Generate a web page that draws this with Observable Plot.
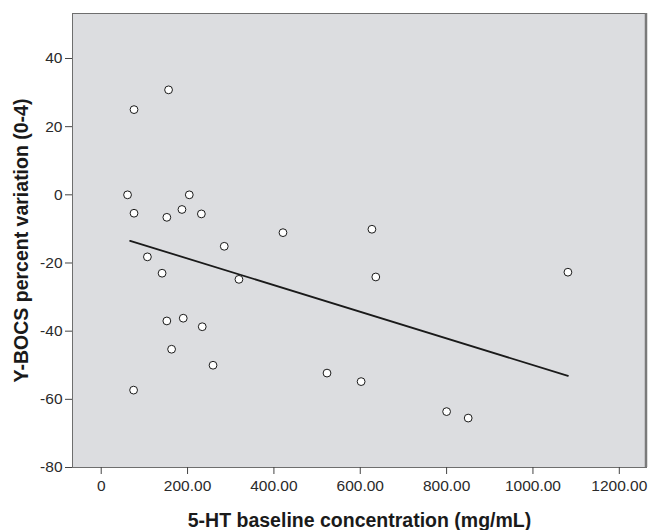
<!DOCTYPE html>
<html>
<head>
<meta charset="utf-8">
<script src="https://cdn.jsdelivr.net/npm/d3@7"></script>
<script src="https://cdn.jsdelivr.net/npm/@observablehq/plot@0.6"></script>
<style>
  html, body { margin: 0; padding: 0; background: #fff; }
  #chart svg { display: block; font-family: "Liberation Sans", Arial, Helvetica, sans-serif; }
</style>
</head>
<body>
<div id="chart"></div>
<script>
// 5-HT baseline concentration (mg/mL)
const serotonin = [156, 76, 61, 76, 152, 187, 204, 232, 421, 627, 285, 107, 141, 319, 636, 1081, 152, 190, 234, 163, 259, 75, 523, 602, 800, 850];
// Y-BOCS percent variation
const ybocs = [30.8, 25.0, 0.0, -5.4, -6.6, -4.3, 0.0, -5.6, -11.1, -10.1, -15.1, -18.2, -23.0, -24.8, -24.1, -22.7, -37.0, -36.2, -38.7, -45.3, -50.0, -57.3, -52.3, -54.8, -63.6, -65.5];

// fitted line endpoints, as drawn
const fitX = [67, 1081];
const fitY = [-13.5, -53.1];

const xTicks = [0, 200, 400, 600, 800, 1000, 1200];
const xTickLabels = ["0", "200.00", "400.00", "600.00", "800.00", "1000.00", "1200.00"];
const yTicks = [-80, -60, -40, -20, 0, 20, 40];

const xTitle = "5-HT baseline concentration (mg/mL)";
const yTitle = "Y-BOCS percent variation (0-4)";

const points = serotonin.map((x, i) => ({x, y: ybocs[i]}));
const fit = fitX.map((x, i) => ({x, y: fitY[i]}));

const xMin = -66.5, xMax = 1263, yMin = -80, yMax = 53.2;

const chart = Plot.plot({
  width: 648,
  height: 530,
  marginTop: 13,
  marginRight: 2,
  marginBottom: 63,
  marginLeft: 72,
  style: {fontSize: "15.5px", color: "#2a2a2a", background: "#fff"},
  x: {domain: [xMin, xMax]},
  y: {domain: [yMin, yMax]},
  marks: [
    Plot.frame({fill: "#dcdde0", stroke: "#6e6e6e", strokeWidth: 1}),
    Plot.ruleX([xMax], {stroke: "#7a7a7a", strokeWidth: 2.5, dx: -0.5}),
    Plot.axisX(xTicks, {
      tickSize: 7, tickPadding: 5, stroke: "#444",
      tickFormat: (d) => xTickLabels[xTicks.indexOf(d)],
      label: null, fontSize: 15.5
    }),
    Plot.axisY(yTicks, {
      tickSize: 7, tickPadding: 3, stroke: "#444",
      tickFormat: (d) => String(d), label: null, fontSize: 15.5
    }),
    Plot.line(fit, {x: "x", y: "y", stroke: "#1a1a1a", strokeWidth: 1.8}),
    Plot.dot(points, {x: "x", y: "y", r: 3.9, fill: "#fff", stroke: "#1a1a1a", strokeWidth: 1}),
    Plot.text([xTitle], {
      text: (d) => d, frameAnchor: "bottom", dy: 59, lineAnchor: "bottom", textAnchor: "middle",
      fontSize: 19.5, fontWeight: "bold", fill: "#1a1a1a"
    }),
    Plot.text([yTitle], {
      text: (d) => d, frameAnchor: "left", dx: -45, lineAnchor: "bottom", textAnchor: "middle", rotate: -90,
      fontSize: 19.5, fontWeight: "bold", fill: "#1a1a1a"
    })
  ]
});
document.getElementById("chart").appendChild(chart);
</script>
</body>
</html>
